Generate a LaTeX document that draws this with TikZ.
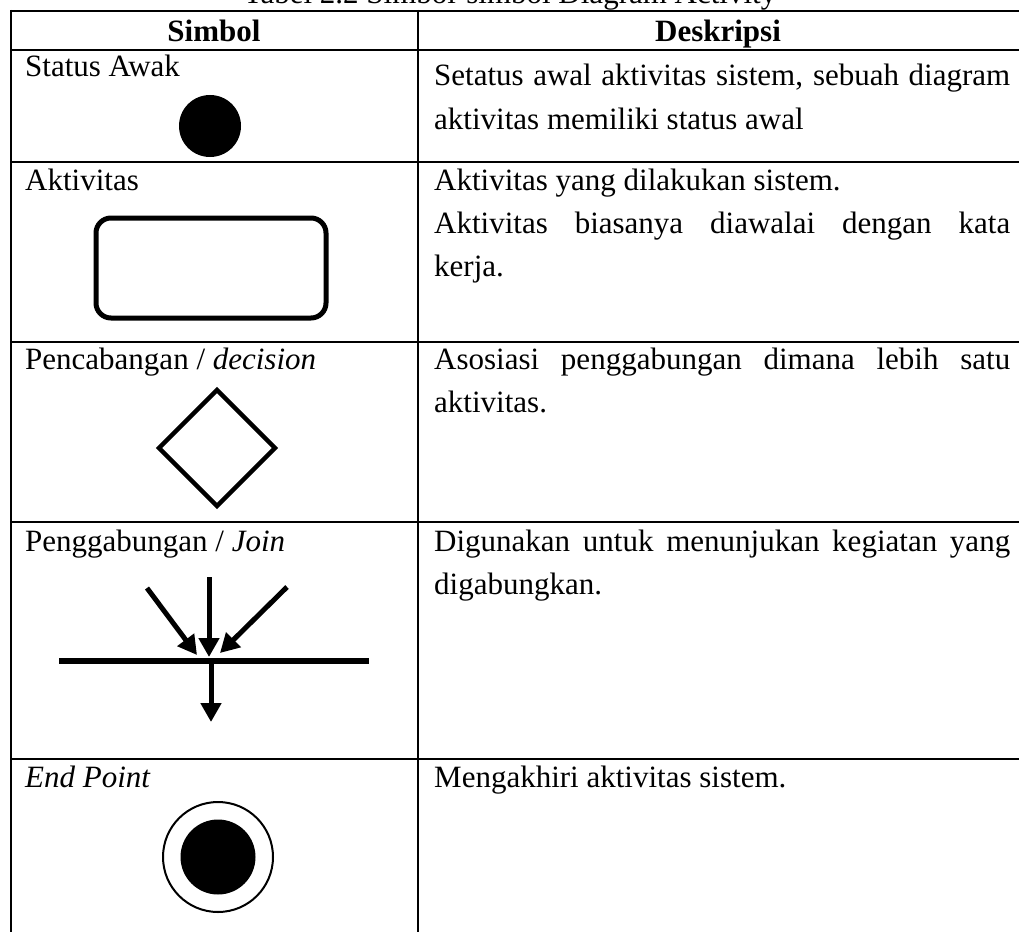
\documentclass[tikz,border=0pt]{standalone}
\usepackage{fontspec}
\setmainfont{Liberation Serif}
\usetikzlibrary{arrows.meta}
\begin{document}
\begin{tikzpicture}[x=1pt,y=-1pt,
  grid/.style={line width=2.2pt},
  txt/.style={anchor=base west,inner sep=0pt,font=\fontsize{31}{43}\selectfont},
  head/.style={anchor=base,inner sep=0pt,font=\fontsize{31}{43}\selectfont\bfseries},
  flow/.style={line width=5pt,-{Triangle[length=19pt,width=20pt]}},
  symline/.style={line width=5pt}]
\useasboundingbox (0,0) rectangle (1019,931);
\clip (0,0) rectangle (1019,931);

% caption above the table
\node[anchor=base,inner sep=0pt,font=\fontsize{31}{43}\selectfont] (cap) at (510,4) {Tabel 2.2 Simbol-simbol Diagram Activity};

% table rules
\draw[grid] (11,11) -- (1030,11);
\draw[grid] (11,50) -- (1030,50);
\draw[grid] (11,162) -- (1030,162);
\draw[grid] (11,342) -- (1030,342);
\draw[grid] (11,522) -- (1030,522);
\draw[grid] (11,759) -- (1030,759);
\draw[grid] (11,10) -- (11,940);
\draw[grid] (418,10) -- (418,940);

% header
\node[head] (h1) at (214,42) {Simbol};
\node[head] (h2) at (718,42) {Deskripsi};

% row 1: initial state
\node[txt] (s1) at (25,77) {Status Awak};
\node[txt] (d1a) at (434,86) {\makebox[576pt][s]{Setatus awal aktivitas sistem, sebuah diagram}};
\node[txt] (d1b) at (434,129) {aktivitas memiliki status awal};
\fill (210,126) circle[radius=31pt];

% row 2: activity
\node[txt] (s2) at (25,190) {Aktivitas};
\node[txt] (d2a) at (434,190) {Aktivitas yang dilakukan sistem.};
\node[txt] (d2b) at (434,233) {\makebox[576pt][s]{Aktivitas biasanya diawalai dengan kata}};
\node[txt] (d2c) at (434,276) {kerja.};
\draw[symline,rounded corners=15pt] (96,218) rectangle (326,318);

% row 3: decision
\node[txt] (s3) at (25,369) {Pencabangan / \textit{decision}};
\node[txt] (d3a) at (434,369) {\makebox[576pt][s]{Asosiasi penggabungan dimana lebih satu}};
\node[txt] (d3b) at (434,412) {aktivitas.};
\draw[symline,line width=4.5pt,line join=miter] (217,390) -- (275,448) -- (217,506) -- (159,448) -- cycle;

% row 4: join
\node[txt] (s4) at (25,551) {Penggabungan / \textit{Join}};
\node[txt] (d4a) at (434,551) {\makebox[576pt][s]{Digunakan untuk menunjukan kegiatan yang}};
\node[txt] (d4b) at (434,594) {digabungkan.};
\coordinate (bl) at (59,661);
\coordinate (br) at (369,661);
\coordinate (a1) at (147,588);
\coordinate (a2) at (209,577);
\coordinate (a3) at (287,587);
\coordinate (t1) at (197,655);
\coordinate (t2) at (209,657);
\coordinate (t3) at (220,653);
\coordinate (o1) at (211,661);
\coordinate (o2) at (211,722);
\draw[line width=6pt] (bl) -- (br);
\draw[flow] (a1) -- (t1);
\draw[flow] (a2) -- (t2);
\draw[flow] (a3) -- (t3);
\draw[flow] (o1) -- (o2);

% row 5: end point
\node[txt] (s5) at (25,787) {\textit{End Point}};
\node[txt] (d5a) at (434,787) {Mengakhiri aktivitas sistem.};
\draw[line width=2pt] (218,857) circle[radius=55pt];
\fill (218,857) circle[radius=37.5pt];
\end{tikzpicture}
\end{document}
